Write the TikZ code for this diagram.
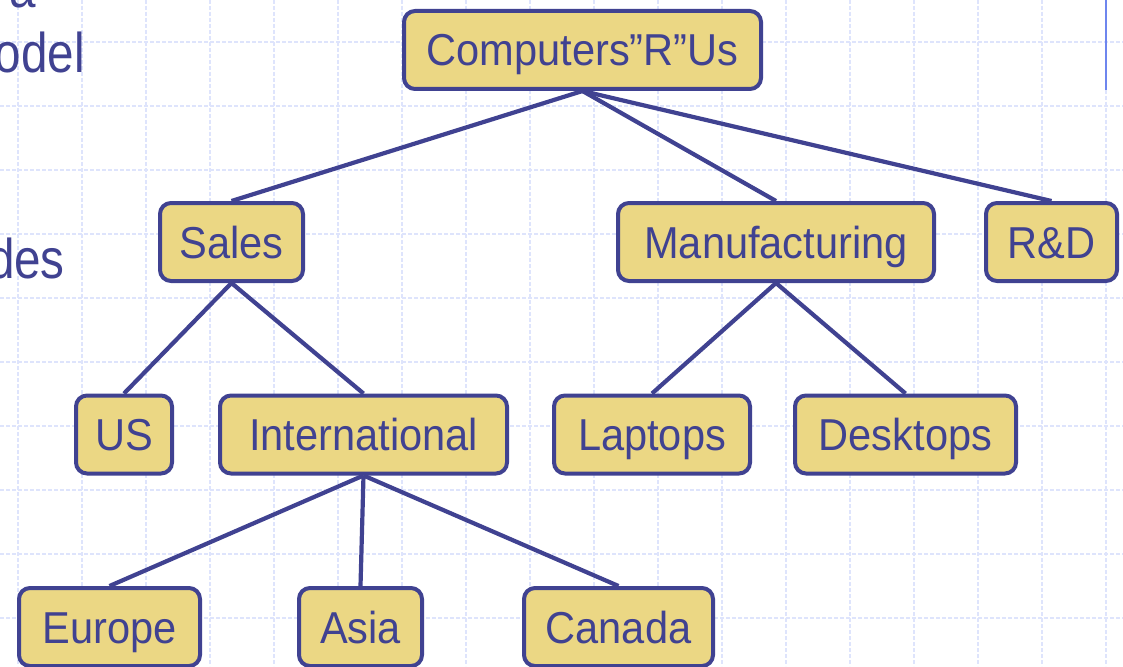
\documentclass[tikz,border=0pt]{standalone}
\usepackage{fontspec}
\setmainfont{Liberation Sans}[FakeStretch=0.93]
\newfontfamily\slidefont{Liberation Sans}[FakeStretch=0.85]
\definecolor{navy}{RGB}{64,66,145}
\definecolor{boxfill}{RGB}{235,215,132}
\definecolor{gridc}{RGB}{222,228,252}
\definecolor{vline}{RGB}{110,134,238}
\begin{document}
\begin{tikzpicture}[x=1pt,y=-1pt,
  box/.style={draw=navy, fill=boxfill, line width=4pt, rounded corners=11pt,
    minimum height=78pt, inner sep=0pt, text=navy,
    font=\fontsize{44.7}{50}\selectfont, text height=32pt, text depth=0pt},
  link/.style={draw=navy, line width=4.2pt},
  slide/.style={text=navy, font=\slidefont\fontsize{56}{60}\selectfont, inner sep=0pt, anchor=base east},
  gridline/.style={draw=gridc, line width=1.2pt, dash pattern=on 4pt off 2pt}]
\clip (0,0) rectangle (1123,666);
\fill[white] (0,0) rectangle (1123,666);
\foreach \gx in {18,82,...,1106} \draw[gridline] (\gx,0) -- (\gx,666);
\foreach \gy in {42,106,...,618} \draw[gridline] (0,\gy) -- (1123,\gy);
\draw[vline, line width=2pt] (1106,0) -- (1106,90);
% slide text fragments
\node[slide] (ta) at (36,8) {a};
\node[slide] (todel) at (85,73) {odel};
\node[slide] (tdes) at (65,278) {des};
% nodes
\node[box, minimum width=357pt] (c) at (582.5,50) {Computers”R”Us};
\node[box, minimum width=143pt] (sales) at (231.5,242) {Sales};
\node[box, minimum width=316pt] (manu) at (776,242) {Manufacturing};
\node[box, minimum width=131pt] (rd) at (1051.5,242) {R\&D};
\node[box, minimum width=96pt] (us) at (124,434.5) {US};
\node[box, minimum width=287pt] (intl) at (363.5,434.5) {International};
\node[box, minimum width=196pt] (lap) at (652,434.5) {Laptops};
\node[box, minimum width=221pt] (desk) at (905.5,434.5) {Desktops};
\node[box, minimum width=181pt] (eu) at (109.5,627) {Europe};
\node[box, minimum width=123pt] (asia) at (360.5,627) {Asia};
\node[box, minimum width=189pt] (can) at (618.5,627) {Canada};
% connectors
\draw[link] (c.south) -- (sales.north);
\draw[link] (c.south) -- (manu.north);
\draw[link] (c.south) -- (rd.north);
\draw[link] (sales.south) -- (us.north);
\draw[link] (sales.south) -- (intl.north);
\draw[link] (manu.south) -- (lap.north);
\draw[link] (manu.south) -- (desk.north);
\draw[link] (intl.south) -- (eu.north);
\draw[link] (intl.south) -- (asia.north);
\draw[link] (intl.south) -- (can.north);
\end{tikzpicture}
\end{document}
